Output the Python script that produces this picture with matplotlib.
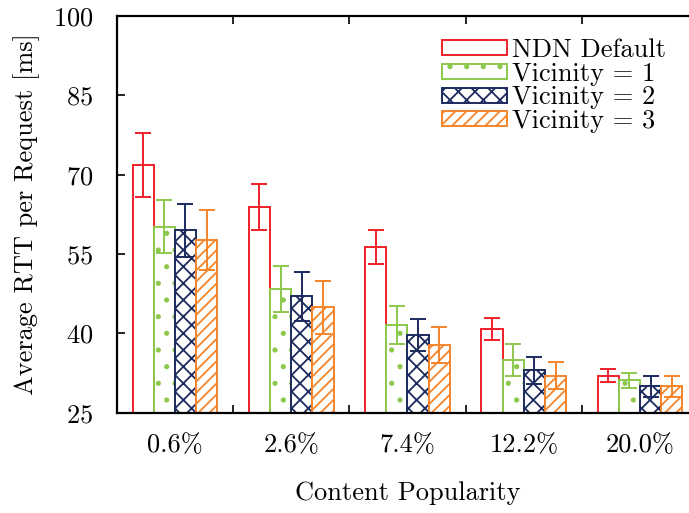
import matplotlib
matplotlib.use("Agg")
import matplotlib.pyplot as plt
import numpy as np

categories = ["0.6%", "2.6%", "7.4%", "12.2%", "20.0%"]
series_names = ["NDN Default", "Vicinity = 1", "Vicinity = 2", "Vicinity = 3"]
ndn_default = [71.8, 63.9, 56.3, 40.8, 32.0]
ndn_default_err = [6.0, 4.3, 3.2, 2.1, 1.2]
vicinity1 = [60.2, 48.4, 41.6, 35.0, 31.1]
vicinity1_err = [5.1, 4.4, 3.6, 3.0, 1.5]
vicinity2 = [59.5, 47.0, 39.7, 33.0, 30.0]
vicinity2_err = [5.0, 4.6, 3.0, 2.5, 2.0]
vicinity3 = [57.6, 44.9, 37.8, 32.0, 30.0]
vicinity3_err = [5.7, 5.0, 3.4, 2.6, 2.0]
y_ticks = [25, 40, 55, 70, 85, 100]

plt.rcParams['font.family'] = ['cmr10', 'DejaVu Serif']
plt.rcParams['mathtext.fontset'] = 'cm'
plt.rcParams['axes.formatter.use_mathtext'] = True
plt.rcParams['hatch.linewidth'] = 1.3

FS = 19

fig = plt.figure(figsize=(6.89, 5.13), dpi=100)
ax = fig.add_axes([0.1694, 0.1955, 0.844, 0.7733])

values = [ndn_default, vicinity1, vicinity2, vicinity3]
errors = [ndn_default_err, vicinity1_err, vicinity2_err, vicinity3_err]
colors = ['#f0202a', '#8cc84b', '#1c2a5e', '#f5842a']
hatches = ['', '.', 'xx', '///']
width = 0.182
offsets = [-1.5, -0.5, 0.5, 1.5]
x = np.arange(len(categories))

for vals, errs, c, h, off, name in zip(values, errors, colors, hatches, offsets, series_names):
    ax.bar(x + off * width, vals, width, bottom=0, facecolor='white', edgecolor=c,
           hatch=h, linewidth=1.4, label=name, zorder=2)
    ax.errorbar(x + off * width, vals, yerr=errs, fmt='none', ecolor=c,
                elinewidth=1.4, capsize=6, capthick=1.4, zorder=3)

ax.set_xlim(-0.5, 4.5)
ax.set_ylim(25, 100)
ax.set_yticks(y_ticks)
ax.set_xticks(x)
ax.set_xticklabels(categories)
ax.set_xticks(x[:-1] + 0.5, minor=True)
ax.tick_params(axis='x', which='major', length=0, pad=15, labelsize=FS)
ax.tick_params(axis='x', which='minor', direction='in', length=6, width=1.2, top=True, bottom=True)
ax.tick_params(axis='y', which='major', direction='in', length=6, width=1.2, pad=17,
               labelsize=FS, right=True)
for s in ax.spines.values():
    s.set_linewidth(1.6)

ax.set_ylabel("Average RTT per Request [ms]", fontsize=FS)
ax.set_xlabel("Content Popularity", fontsize=FS)
ax.yaxis.set_label_coords(-0.132, 0.5)
ax.xaxis.set_label_coords(0.5, -0.172)

leg = ax.legend(loc='upper right', bbox_to_anchor=(0.945, 0.944), frameon=False, fontsize=19,
                handlelength=2.46, handleheight=0.5, handletextpad=0.2, labelspacing=0.0,
                borderaxespad=0, borderpad=0)

fig.savefig("out.png", dpi=100)
